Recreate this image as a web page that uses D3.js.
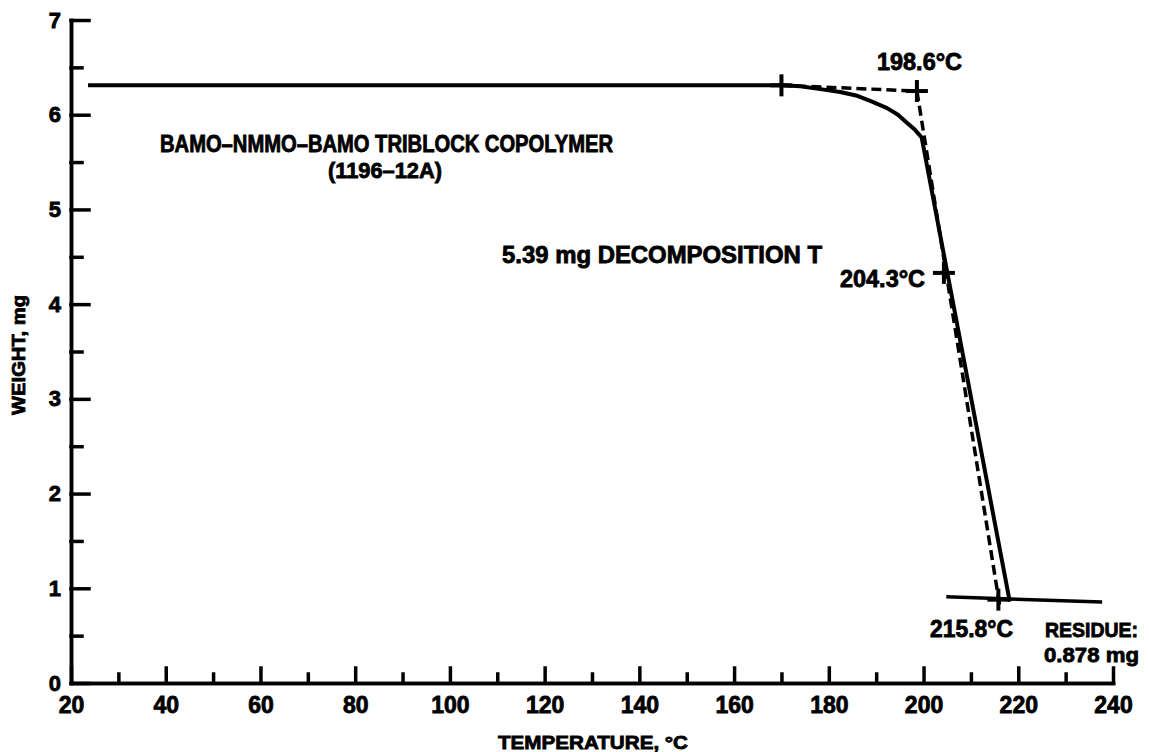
<!DOCTYPE html>
<html>
<head>
<meta charset="utf-8">
<script src="https://cdn.jsdelivr.net/npm/d3@7"></script>
<style>
  html, body { margin: 0; padding: 0; background: #fff; }
  svg text {
    font-family: "Liberation Sans", Arial, sans-serif;
    font-weight: bold;
    fill: #000;
    stroke: #000;
    stroke-width: 0.8px;
  }
</style>
</head>
<body>
<svg id="chart" width="1149" height="752"></svg>
<script>
// ---------- data ----------
const xMajorTicks = [20, 40, 60, 80, 100, 120, 140, 160, 180, 200, 220, 240];
const xMinorTicks = [30, 50, 70, 90, 110, 130, 150, 170, 190, 210, 230];
const yMajorTicks = [0, 1, 2, 3, 4, 5, 6, 7];
const yMinorTicks = [0.5, 1.5, 2.5, 3.5, 4.5, 5.5, 6.5];

// measured TGA curve (temperature °C, weight mg)
const weightCurve = [
  [23.6, 6.31], [170, 6.31], [174, 6.30], [178.2, 6.27], [182.4, 6.24],
  [186, 6.20], [189, 6.14], [192.3, 6.07], [194.6, 6.00], [196.6, 5.91],
  [198.2, 5.84], [199.6, 5.76], [218.2, 0.86]
];
// extrapolated baseline and tangent (dashed)
const baselineExtrap = [[170, 6.31], [198.6, 6.25]];
const tangentExtrap = [[198.6, 6.25], [216.2, 0.78]];
// residue level line
const residueLine = [[204.8, 0.91], [237.7, 0.855]];
// marked points
const markers = [[170, 6.31], [198.6, 6.25], [204.3, 4.33], [215.8, 0.88]];

const titleText = "BAMO\u2013NMMO\u2013BAMO TRIBLOCK COPOLYMER";
const sampleText = "(1196\u201312A)";
const decompText = "5.39 mg DECOMPOSITION T";
const onsetText = "198.6\u00b0C";
const midText = "204.3\u00b0C";
const endText = "215.8\u00b0C";
const residueText = ["RESIDUE:", "0.878 mg"];
const xTitle = "TEMPERATURE, \u00b0C";
const yTitle = "WEIGHT, mg";

// ---------- scales ----------
const svg = d3.select("#chart");
const x = d3.scaleLinear().domain([20, 240]).range([71, 1113]);
const y = d3.scaleLinear().domain([0, 7]).range([683, 20]);

// ---------- axes ----------
const axisStroke = 3.5;

const xAxis = svg.append("g").attr("transform", `translate(0,${y(0)})`)
  .call(d3.axisBottom(x).tickValues(xMajorTicks).tickFormat(d3.format("d"))
    .tickSize(-15).tickSizeOuter(0).tickPadding(14));
svg.append("g").attr("transform", `translate(0,${y(0)})`)
  .call(d3.axisBottom(x).tickValues(xMinorTicks).tickSize(-9).tickSizeOuter(0).tickFormat(""));

const yAxis = svg.append("g").attr("transform", `translate(${x(20)},0)`)
  .call(d3.axisLeft(y).tickValues(yMajorTicks).tickFormat(d3.format("d"))
    .tickSize(-18).tickSizeOuter(0).tickPadding(10));
svg.append("g").attr("transform", `translate(${x(20)},0)`)
  .call(d3.axisLeft(y).tickValues(yMinorTicks).tickSize(-11).tickSizeOuter(0).tickFormat(""));

svg.selectAll(".domain, .tick line")
  .attr("stroke", "#000")
  .attr("stroke-width", axisStroke)
  .attr("stroke-linecap", "square");

xAxis.selectAll("text").style("font-size", "23px").attr("fill", "#000");
yAxis.selectAll("text").style("font-size", "22px").attr("fill", "#000");

// ---------- curves ----------
const line = d3.line().x(d => x(d[0])).y(d => y(d[1]));

svg.append("path").datum(weightCurve)
  .attr("d", line)
  .attr("fill", "none").attr("stroke", "#000")
  .attr("stroke-width", 4).attr("stroke-linejoin", "round");

[baselineExtrap, tangentExtrap].forEach(seg => {
  svg.append("path").datum(seg)
    .attr("d", line)
    .attr("fill", "none").attr("stroke", "#000")
    .attr("stroke-width", 3.5)
    .attr("stroke-dasharray", "10,5");
});

svg.append("path").datum(residueLine)
  .attr("d", line)
  .attr("fill", "none").attr("stroke", "#000")
  .attr("stroke-width", 3.5);

// cross markers
const arm = 11;
const cross = svg.selectAll(".cross").data(markers).enter().append("g")
  .attr("class", "cross")
  .attr("transform", d => `translate(${x(d[0])},${y(d[1])})`);
cross.append("line").attr("x1", -arm).attr("x2", arm);
cross.append("line").attr("y1", -arm).attr("y2", arm);
cross.selectAll("line").attr("stroke", "#000").attr("stroke-width", 4);

// ---------- labels ----------
function label(txt, px, py, size, width, anchor) {
  const t = svg.append("text")
    .attr("x", px).attr("y", py)
    .attr("text-anchor", anchor || "start")
    .style("font-size", size + "px")
    .text(txt);
  if (width) t.attr("textLength", width).attr("lengthAdjust", "spacingAndGlyphs");
  return t;
}

label(onsetText, 877, 70, 23, 85);
label(titleText, 160, 152, 23, 453);
label(sampleText, 328, 178, 22, 114);
label(decompText, 502, 263, 23, 320);
label(midText, 840, 287, 23, 85);
label(endText, 930, 637, 23, 83);
label(residueText[0], 1045, 637, 20, 93);
label(residueText[1], 1044, 662, 21, 95);
label(xTitle, 593, 749, 19, 190, "middle");

svg.append("text")
  .attr("transform", "translate(25,355) rotate(-90)")
  .attr("text-anchor", "middle")
  .style("font-size", "18px")
  .attr("textLength", 120).attr("lengthAdjust", "spacingAndGlyphs")
  .text(yTitle);
</script>
</body>
</html>
